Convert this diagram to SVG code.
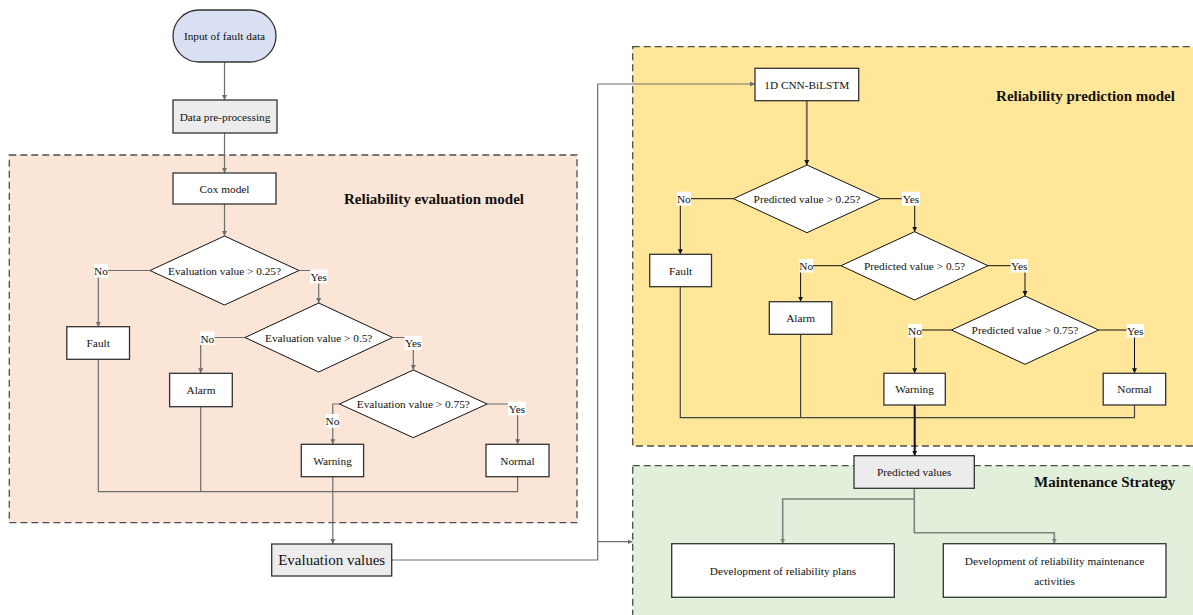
<svg xmlns="http://www.w3.org/2000/svg" width="1193" height="615" viewBox="0 0 1193 615">
<style>
text{font-family:"Liberation Serif","Times New Roman",serif;font-size:11.3px;fill:#111;text-anchor:middle}
.title{font-size:15px;font-weight:bold}
.big{font-size:15px}
.box{fill:#fff;stroke:#333;stroke-width:1.3}
.grey{fill:#ececec;stroke:#333;stroke-width:1.3}
.dia{fill:#fff;stroke:#111;stroke-width:1}
.lbl{fill:#fff;stroke:none}
.region{stroke:#4d4d4d;stroke-width:1.3;stroke-dasharray:7 4}
.cg{fill:none;stroke:#6e6e6e;stroke-width:1.2}
.cd{fill:none;stroke:#444;stroke-width:1.2}
.cb{fill:none;stroke:#111;stroke-width:1}
.cbt{fill:none;stroke:#111;stroke-width:2}
.cbr{fill:none;stroke:#7a6e52;stroke-width:2}
.cm{fill:none;stroke:#808080;stroke-width:1.6}
</style>
<defs>
<marker id="ag" markerWidth="6" markerHeight="6" refX="5" refY="3" orient="auto" markerUnits="userSpaceOnUse"><path d="M0,0.5 L5,3 L0,5.5 Z" fill="#6e6e6e"/></marker>
<marker id="ab" markerWidth="6" markerHeight="6" refX="5" refY="3" orient="auto" markerUnits="userSpaceOnUse"><path d="M0,0.5 L5,3 L0,5.5 Z" fill="#111"/></marker>
<marker id="am" markerWidth="6" markerHeight="6" refX="5" refY="3" orient="auto" markerUnits="userSpaceOnUse"><path d="M0,0.5 L5,3 L0,5.5 Z" fill="#808080"/></marker>
</defs>

<g id="regions">
<rect id="region-eval" class="region" x="9.3" y="155" width="567.7" height="367.7" fill="#fbe5d6"/>
<rect id="region-pred" class="region" x="632.7" y="46.7" width="570" height="399.3" fill="#ffe699"/>
<rect id="region-maint" class="region" x="632.7" y="465.7" width="570" height="160" fill="#e2efda"/>
<text class="title" x="434" y="204">Reliability evaluation model</text>
<text class="title" x="1085.5" y="100.5">Reliability prediction model</text>
<text class="title" x="1104.7" y="487">Maintenance Strategy</text>
</g>

<g id="connectors">
<path class="cg" d="M224.5 62 V100" marker-end="url(#ag)"/>
<path class="cg" d="M224.5 133 V173" marker-end="url(#ag)"/>
<path class="cg" d="M224.5 204 V236" marker-end="url(#ag)"/>
<path class="cg" d="M150 270.5 H98.3 V327" marker-end="url(#ag)"/>
<path class="cg" d="M299 270.5 H318.7 V303" marker-end="url(#ag)"/>
<path class="cg" d="M245 337.5 H200.7 V373.3" marker-end="url(#ag)"/>
<path class="cg" d="M392.6 337.5 H413.3 V370" marker-end="url(#ag)"/>
<path class="cg" d="M339.5 404 H332.8 V444.3" marker-end="url(#ag)"/>
<path class="cg" d="M487.2 404 H517.6 V444.3" marker-end="url(#ag)"/>
<path class="cg" d="M98.3 359.3 V491.7 H517.6 V476.7 M200.7 406.7 V491.7"/>
<path class="cg" d="M332.8 476.7 V544" marker-end="url(#ag)"/>
<path class="cg" d="M391.7 560 H597.7 V84 H755" marker-end="url(#ag)"/>
<path class="cg" d="M597.7 541.7 H632.5" marker-end="url(#ag)"/>
<path class="cbr" d="M806.8 100.7 V165" marker-end="url(#ab)"/>
<path class="cb" d="M733.4 198.7 H680.3 V254.3" marker-end="url(#ab)"/>
<path class="cb" d="M880.6 198.7 H914.7 V231.7" marker-end="url(#ab)"/>
<path class="cb" d="M841 265.7 H800.6 V301.7" marker-end="url(#ab)"/>
<path class="cb" d="M988 265.7 H1025 V296" marker-end="url(#ab)"/>
<path class="cb" d="M951.4 330 H914.7 V373.3" marker-end="url(#ab)"/>
<path class="cb" d="M1098.6 330 H1134.5 V373.3" marker-end="url(#ab)"/>
<path class="cd" d="M680.3 286.7 V417.7 H1134.5 V405 M800.6 334.3 V417.7"/>
<path class="cbt" d="M914.7 405 V455.7" marker-end="url(#ab)"/>
<path class="cm" d="M914.3 488.3 V499 H782.7 V543.7" marker-end="url(#am)"/>
<path class="cm" d="M914.3 499 V532.7 H1054.3 V543.7" marker-end="url(#am)"/>
</g>

<g id="labels">
<rect class="lbl" x="94" y="264" width="14" height="13.5"/><text x="101" y="275">No</text>
<rect class="lbl" x="310" y="269.5" width="17.5" height="14"/><text x="318.7" y="280.5">Yes</text>
<rect class="lbl" x="200" y="331.5" width="14.5" height="13.5"/><text x="207.3" y="342.5">No</text>
<rect class="lbl" x="404.5" y="336" width="17.5" height="14"/><text x="413.2" y="347">Yes</text>
<rect class="lbl" x="325.8" y="414" width="13.2" height="13.7"/><text x="332.4" y="425">No</text>
<rect class="lbl" x="508" y="401.7" width="18" height="13.5"/><text x="517" y="412.5">Yes</text>
<rect class="lbl" x="676.7" y="191.7" width="14.3" height="14"/><text x="683.8" y="202.7">No</text>
<rect class="lbl" x="901.8" y="191.7" width="18.2" height="14"/><text x="911" y="202.7">Yes</text>
<rect class="lbl" x="799.5" y="259" width="13.5" height="13.5"/><text x="806.2" y="269.8">No</text>
<rect class="lbl" x="1010.6" y="259" width="17.5" height="13.5"/><text x="1019.3" y="269.8">Yes</text>
<rect class="lbl" x="908.3" y="324" width="13.5" height="13.5"/><text x="915" y="334.6">No</text>
<rect class="lbl" x="1126.6" y="324" width="17.5" height="13.5"/><text x="1135.3" y="334.6">Yes</text>
</g>

<g id="n-input"><rect x="173" y="10" width="103" height="52" rx="26" fill="#dae0f3" stroke="#333" stroke-width="1.3"/><text x="224.5" y="40">Input of fault data</text></g>
<g id="n-preproc"><rect class="grey" x="173" y="100" width="104" height="33"/><text x="225" y="120.5">Data pre-processing</text></g>
<g id="n-cox"><rect class="box" x="173" y="173" width="103" height="31"/><text x="224.5" y="192.5">Cox model</text></g>
<g id="n-eval1"><path class="dia" d="M224.5 236 L299 270.5 L224.5 305 L150 270.5 Z"/><text x="224.5" y="274.5">Evaluation value &gt; 0.25?</text></g>
<g id="n-eval2"><path class="dia" d="M318.7 303 L392.6 337.5 L318.7 372 L245 337.5 Z"/><text x="318.7" y="341.5">Evaluation value &gt; 0.5?</text></g>
<g id="n-eval3"><path class="dia" d="M413.3 370 L487.2 404 L413.3 437.7 L339.5 404 Z"/><text x="413.3" y="408">Evaluation value &gt; 0.75?</text></g>
<g id="n-fault-e"><rect class="box" x="66.8" y="326.7" width="62.7" height="32.6"/><text x="98.2" y="347">Fault</text></g>
<g id="n-alarm-e"><rect class="box" x="169.6" y="373.3" width="62.7" height="33.4"/><text x="201" y="394">Alarm</text></g>
<g id="n-warning-e"><rect class="box" x="301.3" y="444.3" width="62.3" height="32.4"/><text x="332.5" y="464.5">Warning</text></g>
<g id="n-normal-e"><rect class="box" x="486" y="444.3" width="63" height="32.4"/><text x="517.5" y="464.5">Normal</text></g>
<g id="n-evalvalues"><rect class="grey" x="271.7" y="544" width="120" height="32"/><text class="big" x="331.7" y="565.2">Evaluation values</text></g>

<g id="n-cnn"><rect class="box" x="755" y="68.3" width="103.7" height="32.4"/><text x="806.8" y="88.5">1D CNN-BiLSTM</text></g>
<g id="n-pred1"><path class="dia" d="M807 165 L880.6 198.7 L807 232.7 L733.4 198.7 Z"/><text x="807" y="202.7">Predicted value &gt; 0.25?</text></g>
<g id="n-pred2"><path class="dia" d="M914.5 231.7 L988 265.7 L914.5 300 L841 265.7 Z"/><text x="914.5" y="269.7">Predicted value &gt; 0.5?</text></g>
<g id="n-pred3"><path class="dia" d="M1025 296 L1098.6 330 L1025 364.3 L951.4 330 Z"/><text x="1025" y="334">Predicted value &gt; 0.75?</text></g>
<g id="n-fault-p"><rect class="box" x="649.7" y="254.3" width="61.8" height="32.4"/><text x="680.6" y="274.5">Fault</text></g>
<g id="n-alarm-p"><rect class="box" x="769.3" y="301.7" width="62.5" height="32.6"/><text x="800.6" y="322">Alarm</text></g>
<g id="n-warning-p"><rect class="box" x="883.9" y="373.3" width="61.4" height="31.7"/><text x="914.6" y="393">Warning</text></g>
<g id="n-normal-p"><rect class="box" x="1103.2" y="373.3" width="62.5" height="31.7"/><text x="1134.5" y="393">Normal</text></g>
<g id="n-predvalues"><rect class="grey" x="854" y="455.7" width="120.3" height="32.6"/><text x="914.2" y="476">Predicted values</text></g>
<g id="n-plans"><rect class="box" x="671.7" y="543.7" width="222.6" height="53.6"/><text x="783" y="574.5">Development of reliability plans</text></g>
<g id="n-activities"><rect class="box" x="943.3" y="543.7" width="222.7" height="53.6"/><text x="1054.6" y="564.5">Development of reliability maintenance</text><text x="1054.6" y="584.5">activities</text></g>
</svg>
